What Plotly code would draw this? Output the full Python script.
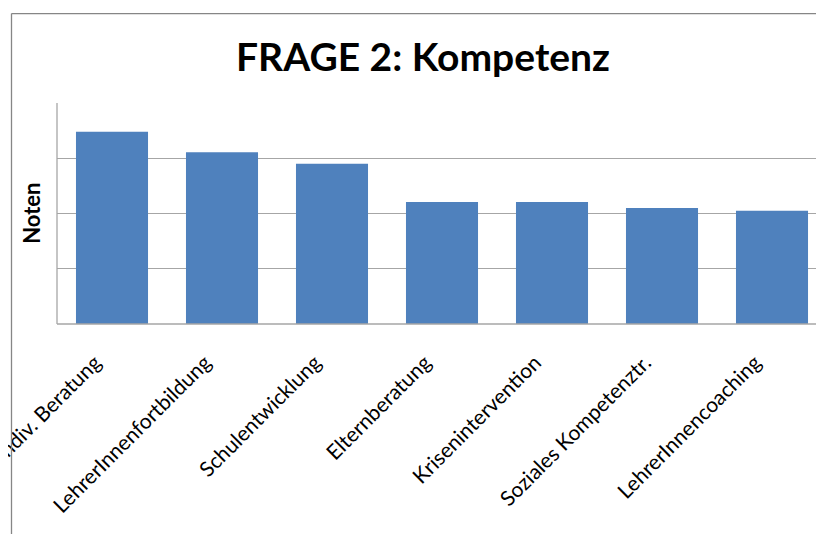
import plotly.graph_objects as go

categories = ["Indiv. Beratung", "LehrerInnenfortbildung", "Schulentwicklung",
              "Elternberatung", "Krisenintervention", "Soziales Kompetenztr.",
              "LehrerInnencoaching"]
values = [3.48, 3.11, 2.90, 2.21, 2.21, 2.10, 2.05]

# page body has an 8px margin; reference coordinates are shifted by OFF
OFF = 8
W, H = 824, 534
L = 57 - OFF
T = 103 - OFF
BOT = 324.3 - OFF
RIGHT = L + 7 * 110
B = H - BOT
R = W - RIGHT
plot_w = RIGHT - L
plot_h = BOT - T

fig = go.Figure(go.Bar(
    x=list(range(len(categories))), y=values,
    marker=dict(color="#4f81bd", line=dict(width=0)),
    width=0.655,
))


def px_x(px):
    return (px - L) / plot_w


def px_y(py):
    return (BOT - py) / plot_h


fig.update_layout(
    width=W, height=H,
    margin=dict(l=L, r=R, t=T, b=B, pad=0, autoexpand=False),
    paper_bgcolor="white", plot_bgcolor="white",
    showlegend=False,
    title=dict(text="<b>FRAGE 2: Kompetenz</b>", x=(423 - OFF) / W, xanchor="center",
               y=1 - (57 - OFF) / H, yanchor="middle", yref="container",
               font=dict(family="Lato", size=39, color="black")),
    xaxis=dict(
        tickmode="array", tickvals=list(range(len(categories))), ticktext=categories,
        tickangle=-45, range=[-0.5, 6.5], automargin=False,
        showgrid=False, zeroline=False, showline=False,
        ticks="outside", ticklen=8, tickcolor="rgba(0,0,0,0)",
        ticklabelshift=-17, ticklabelstandoff=9,
        ticklabeloverflow="allow",
        tickfont=dict(family="Lato", size=21, color="black"),
    ),
    yaxis=dict(
        range=[0, 4], dtick=1, showticklabels=False, automargin=False,
        showgrid=True, gridcolor="#a6a6a6", gridwidth=1.3,
        zeroline=False, showline=False,
    ),
    shapes=[
        dict(type="line", xref="paper", yref="paper", x0=0, x1=0, y0=0, y1=1,
             line=dict(color="#a6a6a6", width=1.3)),
        dict(type="line", xref="paper", yref="paper", x0=0, x1=1, y0=0, y1=0,
             line=dict(color="#a6a6a6", width=1.3)),
        dict(type="line", xref="paper", yref="paper",
             x0=px_x(11.5 - OFF), x1=px_x(11.5 - OFF),
             y0=px_y(H + 5), y1=px_y(13.5 - OFF),
             line=dict(color="#868686", width=1.3)),
        dict(type="line", xref="paper", yref="paper",
             x0=px_x(11.5 - OFF), x1=px_x(W + 5),
             y0=px_y(13.5 - OFF), y1=px_y(13.5 - OFF),
             line=dict(color="#868686", width=1.3)),
    ],
    annotations=[
        dict(text="<b>Noten</b>", textangle=-90, xref="paper", yref="paper",
             x=px_x(32 - OFF), y=px_y(214 - OFF),
             xanchor="center", yanchor="middle", showarrow=False,
             font=dict(family="Lato", size=22, color="black")),
    ],
)

fig.write_html("out.html")
